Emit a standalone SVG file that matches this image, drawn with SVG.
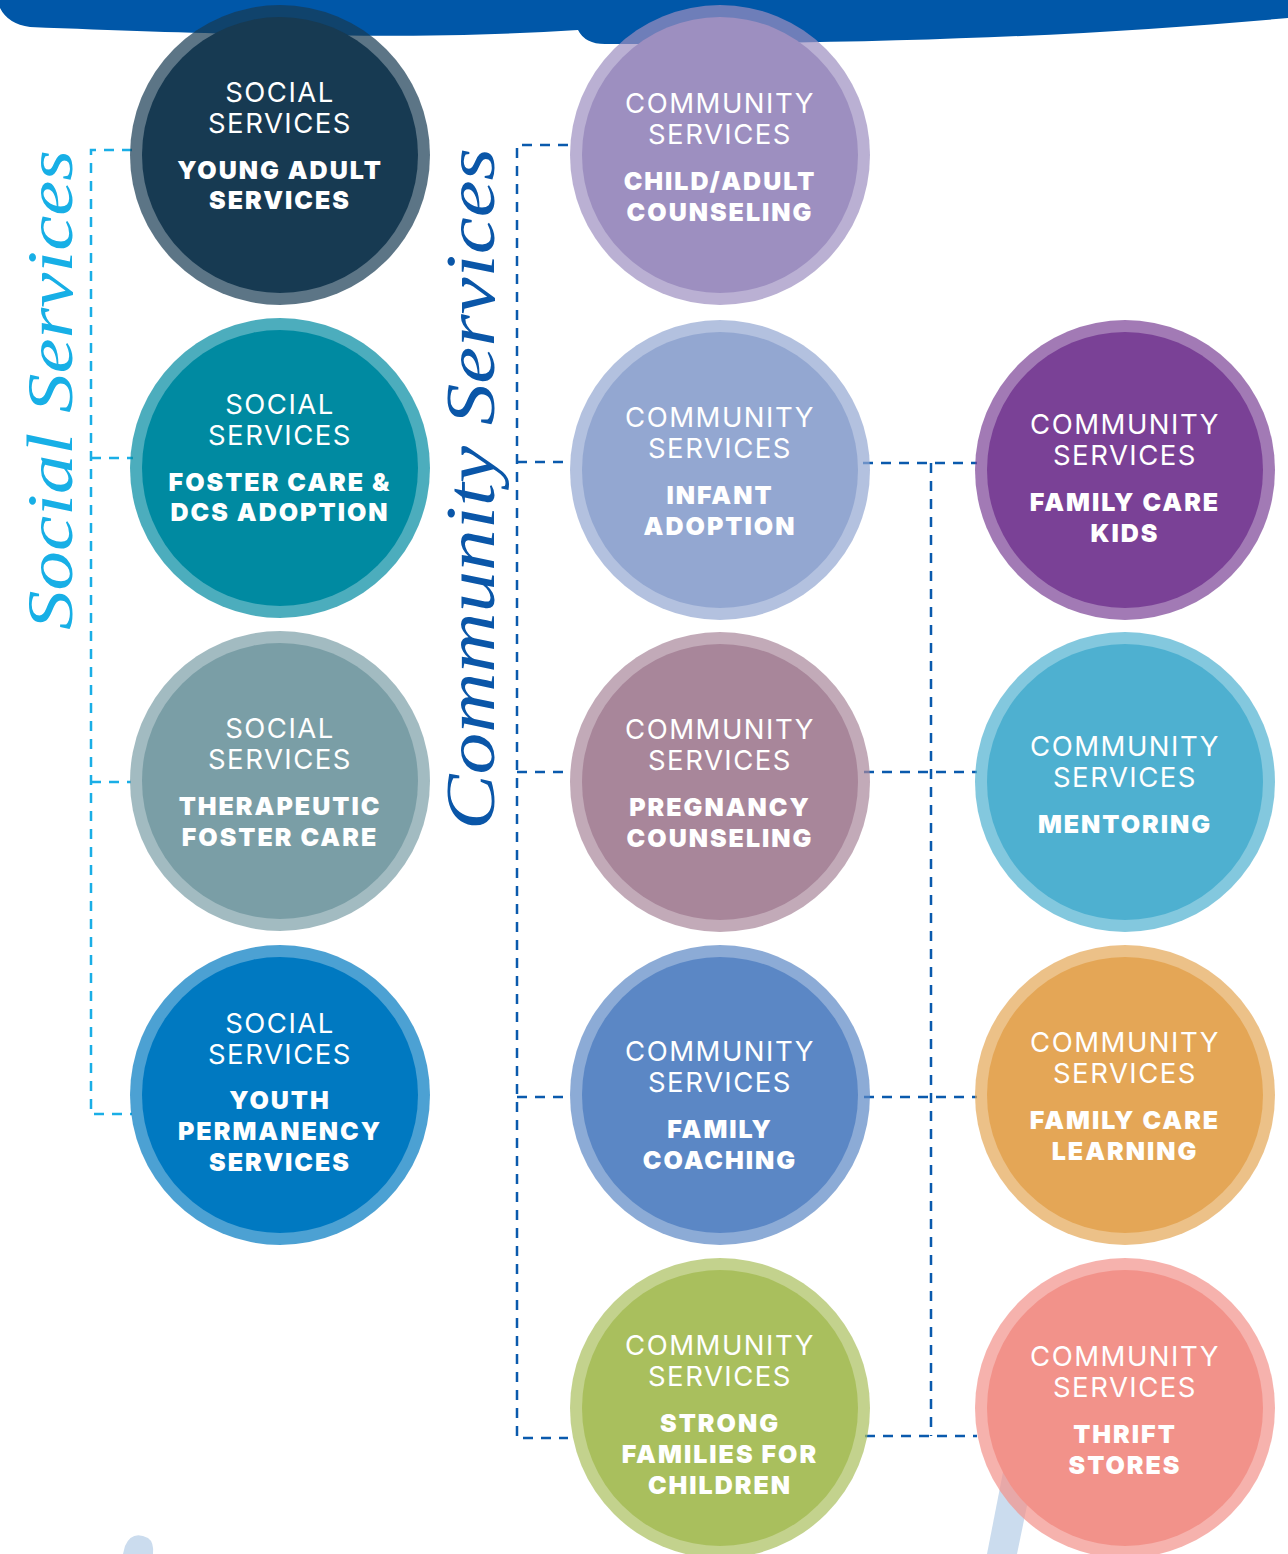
<svg xmlns="http://www.w3.org/2000/svg" width="1288" height="1554" viewBox="0 0 1288 1554">
<style>
.ring{opacity:0.7}
.t{font-family:Inter,"Open Sans",sans-serif;font-size:27.5px;font-weight:400;fill:#fff;text-anchor:middle;letter-spacing:1.5px}
.b{font-family:Inter,"Open Sans",sans-serif;font-size:25px;font-weight:900;fill:#fff;text-anchor:middle;letter-spacing:2px}
.cs{fill:none;stroke:#1aaee6;stroke-width:2.5;stroke-dasharray:10 8}
.cc{fill:none;stroke:#0a5aad;stroke-width:2.5;stroke-dasharray:10 8}
.script{font-family:"Liberation Serif",serif;font-style:italic}
</style>
<rect width="1288" height="1554" fill="#fff"/>
<path d="M0,0 H1288 V18 C1100,35 900,44 605,44 Q585,44 578,30 C450,38 300,38 30,27 Q8,24 0,8 Z" fill="#0057a8"/>
<path d="M1005,1462 L1036,1462 L1017,1554 L987,1554 Z" fill="#cbdcee"/>
<path d="M123,1554 L125,1546 Q132,1530 148,1538 Q154,1542 153,1554 Z" fill="#cbdcee"/>
<text class="script" transform="translate(72,630) rotate(-90)" font-size="66" fill="#17afe6" textLength="480" lengthAdjust="spacingAndGlyphs">Social Services</text>
<text class="script" transform="translate(494,830) rotate(-90)" font-size="70" fill="#0a56a8" textLength="682" lengthAdjust="spacingAndGlyphs">Community Services</text>
<g id="connectors">
<path class="cs" d="M132,150 H91 V1114 H132"/>
<path class="cs" d="M91,458 H133"/>
<path class="cs" d="M91,782 H131"/>
<path class="cc" d="M568,145 H517 V1438 H568"/>
<path class="cc" d="M517,462 H566"/>
<path class="cc" d="M517,772 H566"/>
<path class="cc" d="M517,1097 H566"/>
<path class="cc" d="M863,463 H977"/>
<path class="cc" d="M931,463 V1436"/>
<path class="cc" d="M864,772 H977"/>
<path class="cc" d="M864,1097 H977"/>
<path class="cc" d="M865,1436 H977"/>
</g>
<g id="ss-young-adult">
<circle class="ring" cx="280" cy="155" r="150" fill="#173a52"/><circle cx="280" cy="155" r="138" fill="#173a52"/>
<text class="t" x="280" y="102">SOCIAL</text><text class="t" x="280" y="133">SERVICES</text>
<text class="b" x="280" y="179">YOUNG ADULT</text><text class="b" x="280" y="209">SERVICES</text>
</g>
<g id="ss-foster-care">
<circle class="ring" cx="280" cy="468" r="150" fill="#008aa1"/><circle cx="280" cy="468" r="138" fill="#008aa1"/>
<text class="t" x="280" y="414">SOCIAL</text><text class="t" x="280" y="445">SERVICES</text>
<text class="b" x="280" y="491">FOSTER CARE &amp;</text><text class="b" x="280" y="521">DCS ADOPTION</text>
</g>
<g id="ss-therapeutic">
<circle class="ring" cx="280" cy="781" r="150" fill="#7a9ea6"/><circle cx="280" cy="781" r="138" fill="#7a9ea6"/>
<text class="t" x="280" y="738">SOCIAL</text><text class="t" x="280" y="769">SERVICES</text>
<text class="b" x="280" y="815">THERAPEUTIC</text><text class="b" x="280" y="846">FOSTER CARE</text>
</g>
<g id="ss-youth-permanency">
<circle class="ring" cx="280" cy="1095" r="150" fill="#0079c1"/><circle cx="280" cy="1095" r="138" fill="#0079c1"/>
<text class="t" x="280" y="1033">SOCIAL</text><text class="t" x="280" y="1064">SERVICES</text>
<text class="b" x="280" y="1109">YOUTH</text><text class="b" x="280" y="1140">PERMANENCY</text><text class="b" x="280" y="1171">SERVICES</text>
</g>
<g id="cs-counseling">
<circle class="ring" cx="720" cy="155" r="150" fill="#9d8fc0"/><circle cx="720" cy="155" r="138" fill="#9d8fc0"/>
<text class="t" x="720" y="113">COMMUNITY</text><text class="t" x="720" y="144">SERVICES</text>
<text class="b" x="720" y="190">CHILD/ADULT</text><text class="b" x="720" y="221">COUNSELING</text>
</g>
<g id="cs-infant-adoption">
<circle class="ring" cx="720" cy="470" r="150" fill="#93a7d1"/><circle cx="720" cy="470" r="138" fill="#93a7d1"/>
<text class="t" x="720" y="427">COMMUNITY</text><text class="t" x="720" y="458">SERVICES</text>
<text class="b" x="720" y="504">INFANT</text><text class="b" x="720" y="535">ADOPTION</text>
</g>
<g id="cs-pregnancy">
<circle class="ring" cx="720" cy="782" r="150" fill="#a8869a"/><circle cx="720" cy="782" r="138" fill="#a8869a"/>
<text class="t" x="720" y="739">COMMUNITY</text><text class="t" x="720" y="770">SERVICES</text>
<text class="b" x="720" y="816">PREGNANCY</text><text class="b" x="720" y="847">COUNSELING</text>
</g>
<g id="cs-family-coaching">
<circle class="ring" cx="720" cy="1095" r="150" fill="#5b87c5"/><circle cx="720" cy="1095" r="138" fill="#5b87c5"/>
<text class="t" x="720" y="1061">COMMUNITY</text><text class="t" x="720" y="1092">SERVICES</text>
<text class="b" x="720" y="1138">FAMILY</text><text class="b" x="720" y="1169">COACHING</text>
</g>
<g id="cs-strong-families">
<circle class="ring" cx="720" cy="1408" r="150" fill="#a9bf5d"/><circle cx="720" cy="1408" r="138" fill="#a9bf5d"/>
<text class="t" x="720" y="1355">COMMUNITY</text><text class="t" x="720" y="1386">SERVICES</text>
<text class="b" x="720" y="1432">STRONG</text><text class="b" x="720" y="1463">FAMILIES FOR</text><text class="b" x="720" y="1494">CHILDREN</text>
</g>
<g id="cs-family-care-kids">
<circle class="ring" cx="1125" cy="470" r="150" fill="#7a4196"/><circle cx="1125" cy="470" r="138" fill="#7a4196"/>
<text class="t" x="1125" y="434">COMMUNITY</text><text class="t" x="1125" y="465">SERVICES</text>
<text class="b" x="1125" y="511">FAMILY CARE</text><text class="b" x="1125" y="542">KIDS</text>
</g>
<g id="cs-mentoring">
<circle class="ring" cx="1125" cy="782" r="150" fill="#4eb0d0"/><circle cx="1125" cy="782" r="138" fill="#4eb0d0"/>
<text class="t" x="1125" y="756">COMMUNITY</text><text class="t" x="1125" y="787">SERVICES</text>
<text class="b" x="1125" y="833">MENTORING</text>
</g>
<g id="cs-family-care-learning">
<circle class="ring" cx="1125" cy="1095" r="150" fill="#e4a656"/><circle cx="1125" cy="1095" r="138" fill="#e4a656"/>
<text class="t" x="1125" y="1052">COMMUNITY</text><text class="t" x="1125" y="1083">SERVICES</text>
<text class="b" x="1125" y="1129">FAMILY CARE</text><text class="b" x="1125" y="1160">LEARNING</text>
</g>
<g id="cs-thrift-stores">
<circle class="ring" cx="1125" cy="1408" r="150" fill="#f2928a"/><circle cx="1125" cy="1408" r="138" fill="#f2928a"/>
<text class="t" x="1125" y="1366">COMMUNITY</text><text class="t" x="1125" y="1397">SERVICES</text>
<text class="b" x="1125" y="1443">THRIFT</text><text class="b" x="1125" y="1474">STORES</text>
</g>
</svg>
